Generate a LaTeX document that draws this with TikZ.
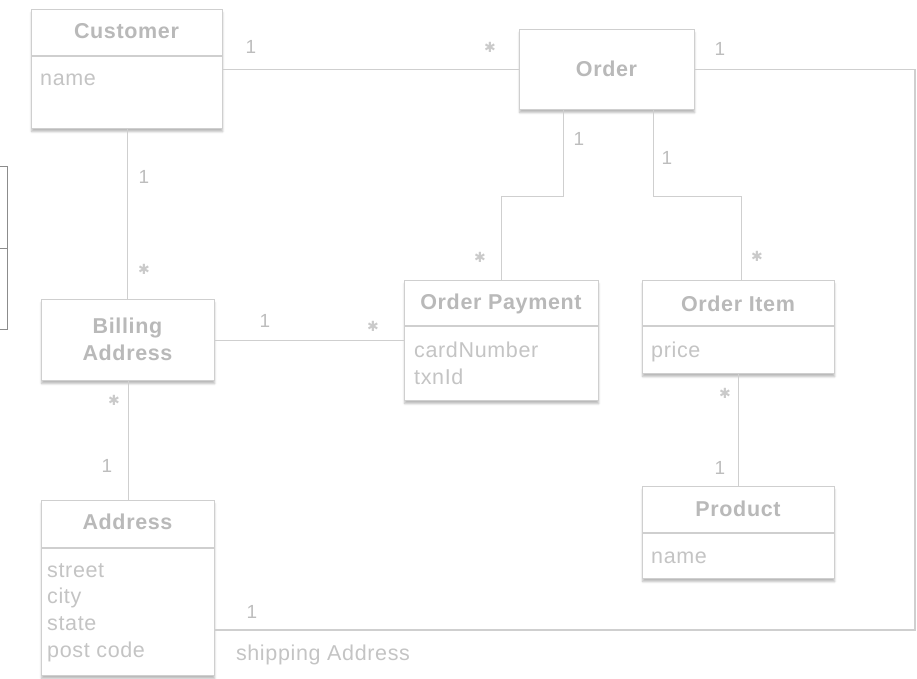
\documentclass[tikz,border=0pt]{standalone}
\usepackage{fontspec}
\setmainfont{Liberation Sans}[LetterSpace=3]
\newfontfamily\symfont{DejaVu Sans}
\usetikzlibrary{shadows.blur}
\definecolor{edgegray}{HTML}{CFCFCF}
\definecolor{titlegray}{HTML}{B9B9B9}
\definecolor{attrgray}{HTML}{C4C4C4}
\definecolor{multgray}{HTML}{BDBDBD}
\definecolor{stargray}{HTML}{CACACA}
\definecolor{framegray}{HTML}{8C8C8C}
\newcommand{\many}{{\symfont\fontsize{14}{15}\selectfont ✱}}
\tikzset{
  umlbox/.style={draw=edgegray, line width=1.2pt, fill=white, anchor=north west,
    inner sep=0pt, blur shadow={shadow xshift=0pt, shadow yshift=-3pt,
    shadow blur steps=6, shadow opacity=28}},
  divider/.style={draw=edgegray, line width=1.2pt},
  title/.style={font=\fontsize{21.5}{27}\selectfont\bfseries, text=titlegray, inner sep=0pt, align=center},
  attr/.style={font=\fontsize{21.5}{26.7}\selectfont, text=attrgray, inner sep=0pt, anchor=north west, align=left},
  mult/.style={font=\fontsize{19}{22}\selectfont, text=multgray, inner sep=0pt},
  star/.style={text=stargray, inner sep=0pt},
  link/.style={draw=edgegray, line width=1.2pt}
}
\begin{document}
\begin{tikzpicture}[x=1pt, y=-1pt]
\useasboundingbox (0,0) rectangle (917,679);

% partial frame at the left edge
\draw[framegray, line width=1pt] (-2,167) -- (7,167) -- (7,329) -- (-2,329);
\draw[framegray, line width=1pt] (-2,248) -- (7,248);

% class boxes
\node[umlbox, minimum width=191pt, minimum height=119pt] (cust) at (31,9) {};
\node[umlbox, minimum width=175pt, minimum height=80pt] (ord) at (519,29) {};
\node[umlbox, minimum width=173pt, minimum height=81pt] (bill) at (41,299) {};
\node[umlbox, minimum width=194pt, minimum height=120pt] (op) at (404,280) {};
\node[umlbox, minimum width=192pt, minimum height=93pt] (oi) at (642,280) {};
\node[umlbox, minimum width=192pt, minimum height=92pt] (prod) at (642,486) {};
\node[umlbox, minimum width=173pt, minimum height=175pt] (addr) at (41,500) {};

% compartment dividers
\draw[divider] (cust.west |- 0,56) -- (cust.east |- 0,56);
\draw[divider] (op.west |- 0,326) -- (op.east |- 0,326);
\draw[divider] (oi.west |- 0,326) -- (oi.east |- 0,326);
\draw[divider] (prod.west |- 0,533) -- (prod.east |- 0,533);
\draw[divider] (addr.west |- 0,548) -- (addr.east |- 0,548);

% class names
\node[title] (custT) at (126.5,31) {Customer};
\node[title] (ordT) at (606.5,69) {Order};
\node[title] (billT) at (127.5,339) {Billing\\Address};
\node[title] (opT) at (501,304) {Order Payment};
\node[title] (oiT) at (738,304) {Order Item};
\node[title] (prodT) at (738,509) {Product};
\node[title] (addrT) at (127.5,522) {Address};

% attributes
\node[attr] (custA) at (40,74) {name};
\node[attr] (opA) at (414,342) {cardNumber\\txnId};
\node[attr] (oiA) at (651,342) {price};
\node[attr] (prodA) at (651,552) {name};
\node[attr] (addrA) at (47,563) {street\\city\\state\\post code};

% associations
\coordinate (shipR) at (915,630);
\draw[link] (ord.west) -- (ord.west -| cust.east);
\draw[link] (ord.east) -| (shipR) -- (shipR -| addr.east);
\draw[link] (cust.south) -- (cust.south |- bill.north);
\draw[link] (bill.east) -- (bill.east -| op.west);
\draw[link] ([xshift=-44pt]ord.south) -- ++(0,86) -| (op.north);
\draw[link] ([xshift=46pt]ord.south) -- ++(0,86) -| ([xshift=3pt]oi.north);
\draw[link] (bill.south) -- (addr.north);
\draw[link] (oi.south) -- (prod.north);

% multiplicities
\node[mult] (m1) at (251,47) {1};
\node[star] (m2) at (490,47) {\many};
\node[mult] (m3) at (720,49) {1};
\node[mult] (m4) at (144,177) {1};
\node[star] (m5) at (144,269) {\many};
\node[mult] (m6) at (265,321) {1};
\node[star] (m7) at (373,326) {\many};
\node[mult] (m8) at (579,139) {1};
\node[star] (m9) at (480,257) {\many};
\node[mult] (m10) at (667,158) {1};
\node[star] (m11) at (757,256) {\many};
\node[star] (m12) at (114,400) {\many};
\node[mult] (m13) at (107,466) {1};
\node[star] (m14) at (725,393) {\many};
\node[mult] (m15) at (720,468) {1};
\node[mult] (m16) at (252,612) {1};
\node[attr, anchor=center] (shipL) at (323,655) {shipping Address};
\end{tikzpicture}
\end{document}
